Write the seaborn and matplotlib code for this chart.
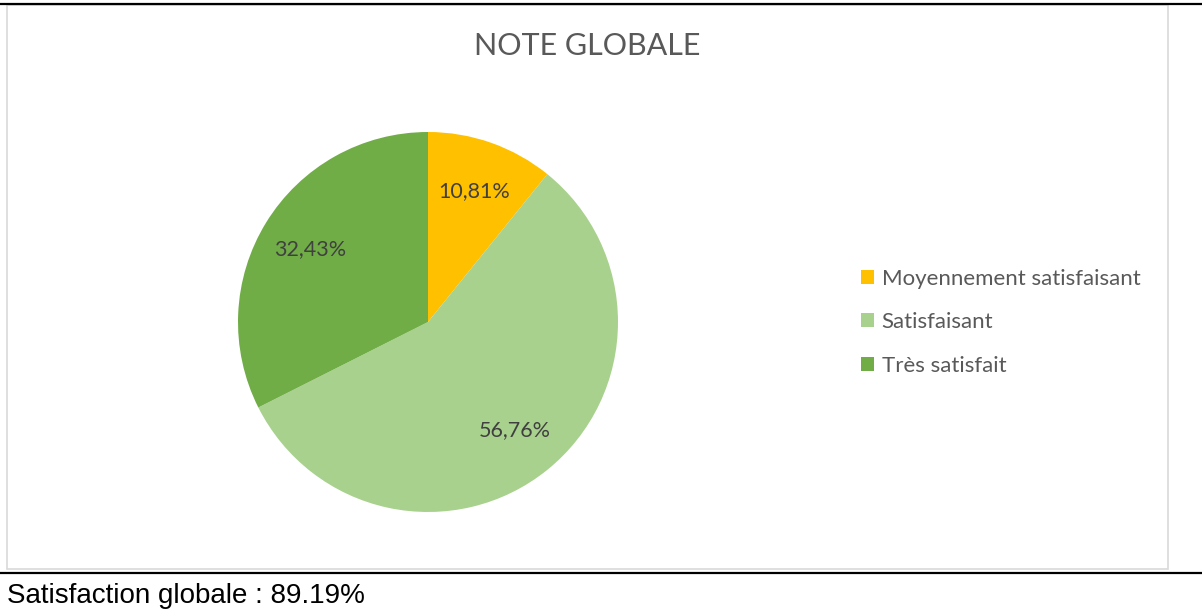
import matplotlib
matplotlib.use("Agg")
import matplotlib.pyplot as plt
import seaborn as sns
from matplotlib.patches import Rectangle
from matplotlib.lines import Line2D

# data
categories = ["Moyennement satisfaisant", "Satisfaisant", "Très satisfait"]
shares = [10.81, 56.76, 32.43]
colors = ["#FFC000", "#A9D18E", "#70AD47"]
title = "NOTE GLOBALE"
footer = "Satisfaction globale : 89.19%"

sns.set_theme(style="white")
plt.rcParams['font.family'] = ['Lato', 'DejaVu Sans']

W, H = 1202, 609
fig = plt.figure(figsize=(W / 100, H / 100), dpi=100)

# chart frame and the document rules around it
fig.patches.append(Rectangle((7 / W, (H - 569) / H), 1161 / W, 564 / H,
                             transform=fig.transFigure, fill=False,
                             edgecolor="#D9D9D9", linewidth=1.2))
fig.add_artist(Line2D([0, 1], [(H - 4) / H] * 2, transform=fig.transFigure,
                      color="black", linewidth=1.6))
fig.add_artist(Line2D([0, 1], [(H - 573) / H] * 2, transform=fig.transFigure,
                      color="black", linewidth=1.6))

# pie
cx, cy, r = 428, 322, 190
ax = fig.add_axes([(cx - r) / W, (H - cy - r) / H, 2 * r / W, 2 * r / H])
wedges, texts, autotexts = ax.pie(
    shares, colors=colors, startangle=90, counterclock=False,
    autopct=lambda p: f"{p:.2f}%".replace(".", ","), pctdistance=0.73,
    wedgeprops=dict(linewidth=0),
    textprops=dict(color="#404040", fontsize=15.5))
ax.set_xlim(-1, 1)
ax.set_ylim(-1, 1)
ax.set_aspect("equal")
ax.axis("off")

fig.text(587 / W, (H - 46) / H, title, ha="center", va="center",
         fontsize=22, color="#595959")

fig.legend(wedges, categories, loc="upper left",
           bbox_to_anchor=(852 / W, (H - 260) / H), frameon=False,
           fontsize=16, labelcolor="#595959", handlelength=0.58,
           handleheight=0.58, handletextpad=0.35, labelspacing=1.05,
           borderaxespad=0)

fig.text(7 / W, (H - 603) / H, footer, ha="left", va="baseline",
         fontsize=20, color="black", family="Liberation Sans")

fig.savefig("out.png", dpi=100)
